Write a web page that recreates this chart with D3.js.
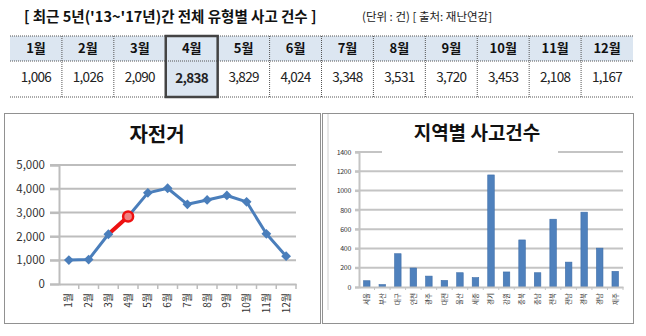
<!DOCTYPE html>
<html><head><meta charset="utf-8">
<script src="https://cdn.jsdelivr.net/npm/d3@7"></script>
<style>
html,body{margin:0;padding:0;background:#fff;}
svg{display:block;}
text{font-family:"Noto Sans CJK KR","Noto Sans",sans-serif;}
</style></head>
<body><svg id="c" width="646" height="336"></svg>
<script>
// ---- data ----
const pageTitle = "[ 최근 5년('13~'17년)간 전체 유형별 사고 건수 ]";
const unitNote = "(단위 : 건) [ 출처: 재난연감]";
const months = ["1월","2월","3월","4월","5월","6월","7월","8월","9월","10월","11월","12월"];
const monthValues = [1006,1026,2090,2838,3829,4024,3348,3531,3720,3453,2108,1167];
const highlightMonth = "4월";
const lineTitle = "자전거";
const lineTicks = [0,1000,2000,3000,4000,5000];
const barTitle = "지역별 사고건수";
const regions = ["서울","부산","대구","인천","광주","대전","울산","세종","경기","강원","충북","충남","전북","전남","경북","경남","제주"];
const regionValues = [65,25,345,197,113,68,148,97,1162,156,488,148,703,258,776,403,162];
const barTicks = [0,200,400,600,800,1000,1200,1400];

const svg = d3.select("#c");
const fmt = d3.format(",");
const blue = "#4a7ebb";

// ---- heading ----
svg.append("text").attr("x",24).attr("y",22).attr("font-size",14.5).attr("font-weight","bold")
  .attr("fill","#111").text(pageTitle);
svg.append("text").attr("x",362).attr("y",21).attr("font-size",11.5).attr("fill","#222").text(unitNote);

// ---- table ----
const tx = d3.scaleBand().domain(months).range([10,633]);
const rowTop = 36, rowMid = 61, rowBot = 97;
svg.append("rect").attr("x",10).attr("y",rowTop).attr("width",623).attr("height",rowMid-rowTop).attr("fill","#dce6f1");
svg.append("rect").attr("x",tx(highlightMonth)).attr("y",rowMid).attr("width",tx.bandwidth()).attr("height",rowBot-rowMid).attr("fill","#dce6f1");
[rowTop,rowMid,rowBot].forEach(y=>{
  svg.append("line").attr("x1",10).attr("x2",633).attr("y1",y).attr("y2",y)
    .attr("stroke","#555").attr("stroke-width",1).attr("stroke-dasharray","1,1");
});
months.slice(1).forEach(m=>{
  svg.append("line").attr("x1",tx(m)).attr("x2",tx(m)).attr("y1",rowTop).attr("y2",rowBot)
    .attr("stroke","#555").attr("stroke-width",1).attr("stroke-dasharray","1,1");
});
svg.selectAll("text.th").data(months).join("text").attr("class","th")
  .attr("x",d=>tx(d)+tx.bandwidth()/2).attr("y",53).attr("text-anchor","middle")
  .attr("font-size",13).attr("font-weight","bold").attr("fill","#111").text(d=>d);
svg.selectAll("text.td").data(monthValues).join("text").attr("class","td")
  .attr("x",(d,i)=>tx(months[i])+tx.bandwidth()/2).attr("y",(d,i)=>months[i]===highlightMonth?83:82)
  .attr("text-anchor","middle").attr("font-size",13.5).attr("letter-spacing",-0.7)
  .attr("font-weight",(d,i)=>months[i]===highlightMonth?"bold":"normal")
  .attr("fill","#222").text(d=>fmt(d));
svg.append("rect").attr("x",tx(highlightMonth)).attr("y",rowTop).attr("width",tx.bandwidth()).attr("height",rowBot-rowTop)
  .attr("fill","none").attr("stroke","#444").attr("stroke-width",2.5);

// ---- panels ----
svg.append("rect").attr("x",4.5).attr("y",113.5).attr("width",316).attr("height",210)
  .attr("fill","none").attr("stroke","#222").attr("stroke-dasharray","1,1");
svg.append("rect").attr("x",322.5).attr("y",113.5).attr("width",311).attr("height",210)
  .attr("fill","none").attr("stroke","#222").attr("stroke-dasharray","1,1");
svg.append("line").attr("x1",328).attr("x2",328).attr("y1",114).attr("y2",310).attr("stroke","#d0d0d0").attr("stroke-width",1);

// ---- line chart ----
const lx = d3.scaleBand().domain(months).range([59,296]);
const ly = d3.scaleLinear().domain([0,5000]).range([284,165]);
const gl = svg.append("g");
gl.selectAll("line.grid").data(lineTicks.filter(d=>d>0)).join("line")
  .attr("x1",50).attr("x2",296).attr("y1",d=>ly(d)).attr("y2",d=>ly(d))
  .attr("stroke","#bdbdbd").attr("stroke-width",2);
gl.append("g").attr("transform","translate(59,0)")
  .call(d3.axisLeft(ly).tickValues(lineTicks).tickFormat(fmt).tickSize(9).tickPadding(5))
  .call(g=>{g.select(".domain").attr("stroke","#bdbdbd").attr("stroke-width",2);
    g.selectAll("line").attr("stroke","#bdbdbd").attr("stroke-width",2);
    g.selectAll("text").attr("font-family","DejaVu Sans").attr("font-size",11.5).attr("fill","#333");});
gl.append("g").attr("transform","translate(0,284)")
  .call(d3.axisBottom(lx).tickSize(5).tickSizeOuter(0))
  .call(g=>{g.select(".domain").attr("stroke","#bdbdbd").attr("stroke-width",2);
    g.selectAll(".tick line").attr("stroke","#bdbdbd").attr("stroke-width",1.5).attr("transform",`translate(${lx.bandwidth()/2},0)`);
    g.selectAll("text").attr("font-size",10).attr("fill","#333").attr("text-anchor","end")
      .attr("transform","rotate(-90)").attr("x",-9).attr("y",0).attr("dy","0.35em");});
gl.append("text").attr("x",157).attr("y",142).attr("text-anchor","middle").attr("font-size",20)
  .attr("font-weight","bold").attr("fill","#111").text(lineTitle);
const pts = months.map((m,i)=>[lx(m)+lx.bandwidth()/2, ly(monthValues[i])]);
gl.append("path").attr("d",d3.line()(pts)).attr("fill","none").attr("stroke",blue).attr("stroke-width",3).attr("stroke-linejoin","round");
const hi = months.indexOf(highlightMonth);
gl.append("path").attr("d",d3.line()([pts[hi-1],pts[hi]])).attr("fill","none").attr("stroke","#ee1111").attr("stroke-width",4);
gl.selectAll("path.mk").data(pts.filter((p,i)=>i!==hi)).join("path").attr("class","mk")
  .attr("d",d3.symbol(d3.symbolSquare,48)()).attr("transform",d=>`translate(${d[0]},${d[1]}) rotate(45)`)
  .attr("fill",blue);
gl.append("circle").attr("cx",pts[hi][0]).attr("cy",pts[hi][1]).attr("r",5).attr("fill","#f08080")
  .attr("stroke","#ee1111").attr("stroke-width",2.5);

// ---- bar chart ----
const bx = d3.scaleBand().domain(regions).range([359,623]).paddingInner(0.58).paddingOuter(0.29);
const by = d3.scaleLinear().domain([0,1400]).range([287,152]);
const gb = svg.append("g");
gb.selectAll("line.grid").data(barTicks.filter(d=>d>0)).join("line")
  .attr("x1",355).attr("x2",623).attr("y1",d=>by(d)).attr("y2",d=>by(d))
  .attr("stroke","#c4c4c4").attr("stroke-width",2);
gb.append("g").attr("transform","translate(359,0)")
  .call(d3.axisLeft(by).tickValues(barTicks).tickFormat(d3.format("d")).tickSize(4).tickPadding(4))
  .call(g=>{g.select(".domain").attr("stroke","#c4c4c4").attr("stroke-width",2);
    g.selectAll("line").attr("stroke","#c4c4c4").attr("stroke-width",2);
    g.selectAll("text").attr("font-family","DejaVu Sans").attr("font-size",7).attr("letter-spacing",-0.3).attr("fill","#333");});
// white band behind title over top grid line (as in reference)
gb.append("rect").attr("x",382).attr("y",146).attr("width",176).attr("height",9).attr("fill","#fff");
gb.append("text").attr("x",477).attr("y",140).attr("text-anchor","middle").attr("font-size",19)
  .attr("font-weight","bold").attr("fill","#111").text(barTitle);
gb.selectAll("rect.bar").data(regionValues).join("rect").attr("class","bar")
  .attr("x",(d,i)=>bx(regions[i])).attr("width",bx.bandwidth())
  .attr("y",d=>by(d)).attr("height",d=>by(0)-by(d))
  .attr("fill","#4f81bd").attr("stroke","#3d6da8").attr("stroke-width",0.6);
const bandStep = bx.step();
gb.append("g").attr("transform","translate(0,287)")
  .call(d3.axisBottom(d3.scaleBand().domain(regions).range([359,623])).tickSize(3).tickSizeOuter(0))
  .call(g=>{g.select(".domain").attr("stroke","#c4c4c4").attr("stroke-width",2);
    g.selectAll(".tick line").attr("stroke","#c4c4c4").attr("stroke-width",1).attr("transform",`translate(${bandStep/2},0)`);
    g.selectAll("text").attr("font-size",6.5).attr("fill","#333").attr("text-anchor","end")
      .attr("transform","rotate(-90)").attr("x",-6).attr("y",0).attr("dy","0.35em");});
</script></body></html>
